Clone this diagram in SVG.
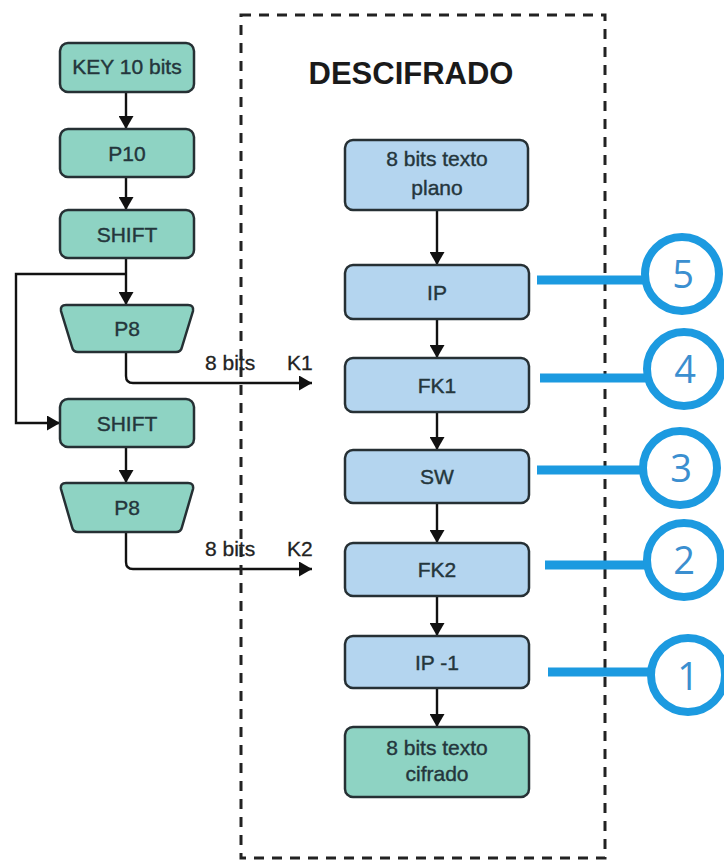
<svg xmlns="http://www.w3.org/2000/svg" width="724" height="861" viewBox="0 0 724 861">
  <defs>
    <marker id="arrow" viewBox="0 0 13 15" refX="13" refY="7.5" markerWidth="13" markerHeight="15" markerUnits="userSpaceOnUse" orient="auto">
      <path d="M0,0 L13,7.5 L0,15 Z" fill="#111"/>
    </marker>
    <style>
      .box { stroke: #263034; stroke-width: 2.5; }
      .green { fill: #8ed3c3; }
      .blue { fill: #b4d5ef; }
      .lbl { font-family: "Liberation Sans", Arial, sans-serif; font-size: 21px; fill: #24363c; stroke: #24363c; stroke-width: 0.4; text-anchor: middle; }
      .edge { fill: none; stroke: #111; stroke-width: 2.4; }
      .small { font-family: "Liberation Sans", Arial, sans-serif; font-size: 21px; fill: #222; stroke: #222; stroke-width: 0.3; }
      .tag { fill: none; stroke: #1c9ae0; stroke-width: 8; }
      .tagline { stroke: #1c9ae0; stroke-width: 9; }
      .num { font-family: "Open Sans", "Liberation Sans", sans-serif; font-size: 38px; fill: #3b8fd0; text-anchor: middle; }
    </style>
  </defs>

  <rect width="724" height="861" fill="#ffffff"/>

  <!-- connectors -->
  <g id="connectors">
    <!-- key schedule column -->
    <line class="edge" x1="126" y1="92" x2="126" y2="129" marker-end="url(#arrow)"/>
    <line class="edge" x1="126" y1="177" x2="126" y2="210" marker-end="url(#arrow)"/>
    <line class="edge" x1="126" y1="258" x2="126" y2="305" marker-end="url(#arrow)"/>
    <path class="edge" d="M126,274 H16 V423 H60" marker-end="url(#arrow)"/>
    <line class="edge" x1="126" y1="447" x2="126" y2="483" marker-end="url(#arrow)"/>
    <path class="edge" d="M126,352 V376 Q126,383 133,383 H312" marker-end="url(#arrow)"/>
    <path class="edge" d="M126,532 V562 Q126,569 133,569 H312" marker-end="url(#arrow)"/>
    <text class="small" x="205" y="370">8 bits</text>
    <text class="small" x="287" y="370">K1</text>
    <text class="small" x="205" y="556">8 bits</text>
    <text class="small" x="287" y="556">K2</text>

    <!-- decryption column -->
    <line class="edge" x1="437" y1="210" x2="437" y2="265" marker-end="url(#arrow)"/>
    <line class="edge" x1="437" y1="319" x2="437" y2="358" marker-end="url(#arrow)"/>
    <line class="edge" x1="437" y1="412" x2="437" y2="450" marker-end="url(#arrow)"/>
    <line class="edge" x1="437" y1="503" x2="437" y2="543" marker-end="url(#arrow)"/>
    <line class="edge" x1="437" y1="596" x2="437" y2="636" marker-end="url(#arrow)"/>
    <line class="edge" x1="437" y1="688" x2="437" y2="727" marker-end="url(#arrow)"/>
  </g>

  <!-- dashed frame -->
  <rect x="241" y="15" width="364" height="843" fill="none" stroke="#222" stroke-width="3" stroke-dasharray="10 8"/>
  <text x="411" y="84" font-family="Liberation Sans, Arial, sans-serif" font-size="31" font-weight="bold" fill="#1a1a1a" text-anchor="middle">DESCIFRADO</text>

  <!-- key schedule nodes -->
  <g id="key10">
    <rect class="box green" x="60" y="43" width="134" height="49" rx="8"/>
    <text class="lbl" x="127" y="74" font-size="18">KEY 10 bits</text>
  </g>
  <g id="p10">
    <rect class="box green" x="60" y="129" width="134" height="48" rx="8"/>
    <text class="lbl" x="127" y="160.5">P10</text>
  </g>
  <g id="shift1">
    <rect class="box green" x="60" y="210" width="134" height="48" rx="8"/>
    <text class="lbl" x="127" y="241.5">SHIFT</text>
  </g>
  <g id="p8a">
    <path class="box green" d="M66,305 H188 Q194,305 193,311 L182,347 Q181,352 176,352 H78 Q73,352 72,347 L61,311 Q60,305 66,305 Z"/>
    <text class="lbl" x="127" y="336">P8</text>
  </g>
  <g id="shift2">
    <rect class="box green" x="60" y="399" width="134" height="48" rx="8"/>
    <text class="lbl" x="127" y="430.5">SHIFT</text>
  </g>
  <g id="p8b">
    <path class="box green" d="M66,483 H188 Q194,483 193,489 L182,527 Q181,532 176,532 H78 Q73,532 72,527 L61,489 Q60,483 66,483 Z"/>
    <text class="lbl" x="127" y="515">P8</text>
  </g>

  <!-- decryption nodes -->
  <g id="plano">
    <rect class="box blue" x="345" y="140" width="183" height="70" rx="8"/>
    <text class="lbl" x="437" y="165.5">8 bits texto</text>
    <text class="lbl" x="437" y="194.5">plano</text>
  </g>
  <g id="ip">
    <rect class="box blue" x="345" y="265" width="184" height="54" rx="8"/>
    <text class="lbl" x="437" y="299.5">IP</text>
  </g>
  <g id="fk1">
    <rect class="box blue" x="345" y="358" width="184" height="54" rx="8"/>
    <text class="lbl" x="437" y="392.5">FK1</text>
  </g>
  <g id="sw">
    <rect class="box blue" x="345" y="450" width="184" height="53" rx="8"/>
    <text class="lbl" x="437" y="484">SW</text>
  </g>
  <g id="fk2">
    <rect class="box blue" x="345" y="543" width="184" height="53" rx="8"/>
    <text class="lbl" x="437" y="577">FK2</text>
  </g>
  <g id="ipinv">
    <rect class="box blue" x="345" y="636" width="184" height="52" rx="8"/>
    <text class="lbl" x="437" y="669.5">IP -1</text>
  </g>
  <g id="cifrado">
    <rect class="box green" x="345" y="727" width="184" height="70" rx="8"/>
    <text class="lbl" x="437" y="754.5">8 bits texto</text>
    <text class="lbl" x="437" y="780.5">cifrado</text>
  </g>

  <!-- numbered step markers -->
  <g id="step5">
    <line class="tagline" x1="537" y1="280" x2="644" y2="280"/>
    <circle class="tag" cx="682" cy="274" r="37"/>
    <text class="num" x="683" y="288">5</text>
  </g>
  <g id="step4">
    <line class="tagline" x1="540" y1="378" x2="647" y2="378"/>
    <circle class="tag" cx="684" cy="369" r="37"/>
    <text class="num" x="685" y="383">4</text>
  </g>
  <g id="step3">
    <line class="tagline" x1="537" y1="470" x2="642" y2="470"/>
    <circle class="tag" cx="680" cy="468" r="37"/>
    <text class="num" x="681" y="482">3</text>
  </g>
  <g id="step2">
    <line class="tagline" x1="545" y1="565" x2="648" y2="565"/>
    <circle class="tag" cx="684" cy="560" r="37"/>
    <text class="num" x="684" y="574">2</text>
  </g>
  <g id="step1">
    <line class="tagline" x1="548" y1="672" x2="652" y2="672"/>
    <circle class="tag" cx="688" cy="675" r="37"/>
    <text class="num" x="688" y="690">1</text>
  </g>
</svg>
